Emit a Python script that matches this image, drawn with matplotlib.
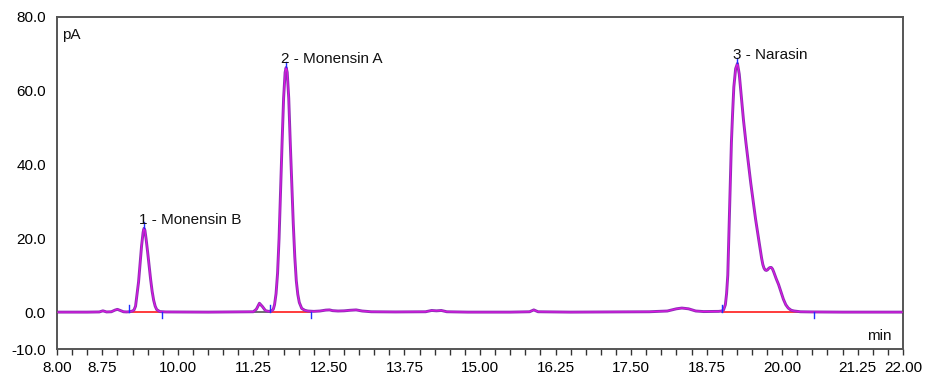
"""
GC-FID chromatogram: monensin B, monensin A and narasin.
"""
import matplotlib
matplotlib.use("Agg")
import matplotlib.pyplot as plt

plt.rcParams["font.family"] = ["Liberation Sans", "DejaVu Sans"]

# retention time (min) / signal (pA)
time_min = [
    8.00, 8.50, 8.70, 8.76, 8.82, 8.90, 8.96, 9.00, 9.04, 9.10, 9.15, 9.20,
    # peak 1 - Monensin B
    9.250, 9.275, 9.300, 9.325, 9.350, 9.375, 9.400, 9.425, 9.440, 9.455,
    9.475, 9.500, 9.525, 9.550, 9.575, 9.600, 9.625, 9.650, 9.700,
    9.80, 10.50, 11.00, 11.20,
    # small impurity + peak 2 - Monensin A
    11.25, 11.30, 11.35, 11.40, 11.45, 11.50, 11.55, 11.58, 11.60, 11.625,
    11.65, 11.675, 11.70, 11.725, 11.75, 11.775, 11.792, 11.81, 11.835,
    11.86, 11.885, 11.91, 11.935, 11.96, 11.985, 12.01, 12.05, 12.10, 12.15,
    12.25, 12.35, 12.45, 12.51, 12.56, 12.65, 12.75, 12.85, 12.95, 13.05,
    13.20, 13.60, 14.10, 14.20, 14.28, 14.36, 14.45, 14.80, 15.50, 15.82,
    15.89, 15.96, 16.50, 17.20, 17.80, 18.10, 18.25, 18.34, 18.45, 18.57,
    18.70,
    # peak 3 - Narasin (with shoulder)
    18.95, 19.00, 19.03, 19.06, 19.08, 19.10, 19.12, 19.14, 19.16, 19.18,
    19.20, 19.23, 19.26, 19.29, 19.32, 19.36, 19.40, 19.44, 19.48, 19.52,
    19.56, 19.60, 19.62, 19.64, 19.66, 19.68, 19.70, 19.72, 19.74, 19.76,
    19.78, 19.80, 19.82, 19.84, 19.86, 19.88, 19.90,
    19.94, 19.98, 20.02, 20.06, 20.10, 20.15, 20.20, 20.30,
    20.50, 21.00, 22.00,
]
signal_pa = [
    0.0, 0.0, 0.05, 0.35, 0.05, 0.1, 0.55, 0.75, 0.5, 0.1, 0.05, 0.1,
    0.3, 0.6, 1.6, 4.8, 8.2, 13.0, 18.0, 21.6, 22.7, 22.2,
    19.8, 16.3, 12.5, 8.8, 5.6, 3.2, 1.6, 0.7, 0.15,
    0.05, 0.0, 0.05, 0.05,
    0.1, 0.8, 2.4, 1.5, 0.4, 0.2, 0.3, 0.8, 2.0, 5.0,
    10.5, 20.0, 33.0, 46.0, 58.0, 65.0, 66.3, 65.0, 58.0,
    46.0, 35.0, 24.0, 15.0, 8.5, 4.8, 2.6, 1.0, 0.5, 0.3,
    0.2, 0.3, 0.55, 0.6, 0.4, 0.3, 0.35, 0.5, 0.6, 0.3,
    0.1, 0.05, 0.1, 0.45, 0.35, 0.45, 0.1, 0.0, 0.0, 0.1,
    0.6, 0.1, 0.0, 0.05, 0.1, 0.3, 0.9, 1.1, 0.9, 0.3,
    0.15,
    0.2, 0.3, 0.6, 2.0, 5.0, 10.0, 22.0, 35.0, 46.0, 54.0,
    61.0, 66.0, 67.4, 64.5, 59.0, 52.0, 46.0, 40.5, 35.0, 30.0,
    25.2, 21.0, 18.8, 16.6, 14.6, 12.9, 11.9, 11.4, 11.3, 11.5,
    11.9, 12.1, 12.1, 11.7, 10.9, 10.0, 9.1,
    7.5, 5.5, 3.5, 2.0, 1.1, 0.5, 0.3, 0.1,
    0.05, 0.0, 0.0,
]

# integration events
peak_names = ["1 - Monensin B", "2 - Monensin A", "3 - Narasin"]
peak_start = [9.19, 11.53, 19.01]
peak_end = [9.74, 12.21, 20.52]
peak_apex = [9.44, 11.792, 19.26]
peak_height = [22.7, 66.3, 67.4]
impurity_window = [11.25, 11.53]

xtick_pos = [8.00, 8.75, 10.00, 11.25, 12.50, 13.75, 15.00, 16.25, 17.50,
             18.75, 20.00, 21.25, 22.00]
ytick_pos = [-10.0, 0.0, 20.0, 40.0, 60.0, 80.0]

fig = plt.figure(figsize=(9.28, 3.75), dpi=100)
ax = fig.add_axes([0.0614, 0.0693, 0.9117, 0.8854])

# baselines under the trace
ax.plot(impurity_window, [0, 0], color="#555555", lw=1.2, zorder=1)
for s, e in zip(peak_start, peak_end):
    ax.plot([s, e], [0, 0], color="#ff1a1a", lw=1.2, zorder=1)

# trace: purple with magenta highlight
ax.plot(time_min, signal_pa, color="#9030b8", lw=2.1, zorder=2,
        solid_joinstyle="round")
ax.plot(time_min, signal_pa, color="#e612e6", lw=0.7, zorder=3,
        solid_joinstyle="round")

# blue event markers: start up, end down, apex above
for s, e, a, h in zip(peak_start, peak_end, peak_apex, peak_height):
    ax.plot([s, s], [0, 2.0], color="#1f2fff", lw=1.0, zorder=4)
    ax.plot([e, e], [0, -1.7], color="#1f2fff", lw=1.0, zorder=4)
    ax.plot([a, a], [h + 0.2, h + 1.6], color="#1f2fff", lw=1.0, zorder=4)

for name, a, h in zip(peak_names, peak_apex, peak_height):
    ax.text(a - 0.08, h + 1.3, name, fontsize=11, color="#111111",
            ha="left", va="baseline", zorder=5)

ax.set_xlim(8.0, 22.0)
ax.set_ylim(-10.0, 80.0)

ax.set_xticks(xtick_pos)
ax.set_xticklabels([f"{t:.2f}" for t in xtick_pos], fontsize=11)
ax.set_xticks([8.0 + 0.25 * i for i in range(57)], minor=True)
ax.tick_params(axis="x", which="both", direction="out", length=4.5,
               width=1.0, color="#333333", pad=4)

ax.set_yticks(ytick_pos)
ax.set_yticklabels([f"{v:.1f}" for v in ytick_pos], fontsize=11)
ax.tick_params(axis="y", length=0, pad=8)

for sp in ax.spines.values():
    sp.set_color("#555555")
    sp.set_linewidth(1.4)

ax.text(0.006, 0.968, "pA", transform=ax.transAxes, fontsize=11,
        ha="left", va="top", color="#111111")
ax.text(0.986, 0.027, "min", transform=ax.transAxes, fontsize=11,
        ha="right", va="baseline", color="#111111")

fig.savefig("out.png", dpi=100, facecolor="white")
